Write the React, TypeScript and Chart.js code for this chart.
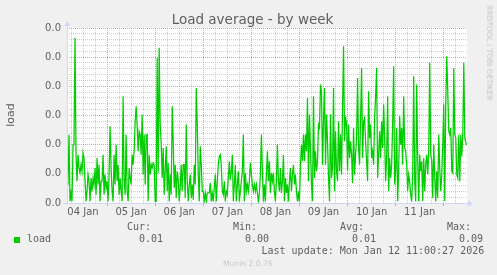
import React, { useEffect, useRef } from "react";
import { Chart, registerables } from "chart.js";

Chart.register(...registerables);

// Time axis: hours since 04 Jan 00:00, one sample every 30 minutes
const START_HOUR = 4;
const STEP_HOURS = 0.5;
const X_MIN = 4;
const X_MAX = 203.6;

const dayLabels = ["04 Jan", "05 Jan", "06 Jan", "07 Jan", "08 Jan", "09 Jan", "10 Jan", "11 Jan", "12 Jan"];
const yTickLabel = "0.0";
const Y_MAX = 0.096;
const Y_MINOR_STEP = 0.0032;
const Y_MINOR_COUNT = 30;

const loadValues = [
  // 04 Jan 04:00 ->
  0.0101, 0.0101, 0.0375, 0.0009, 0.0055, 0.0009, 0.032, 0.032, 0.0906, 0.0265,
  0.0119, 0.0265, 0.0192, 0.0165, 0.021, 0.0174, 0.0275, 0.0247, 0.0119, 0.0009,
  0.0064, 0.0156, 0.0119, 0.0009, 0.0137, 0.0064, 0.0137, 0.0101, 0.0192, 0.0046,
  0.0247, 0.0101, 0.021, 0.0009, 0.0119, 0.0119, 0.0265, 0.0046, 0.0156, 0.0082,
  0.0119, 0.0009, 0.0156, 0.0421, 0.0192, 0.0064, 0.0009, 0.0265, 0.0101, 0.032,
  0.0119, 0.021, 0.0046, 0.0137, 0.0064, 0.0009, 0.0586, 0.0119, 0.0046, 0.0375,
  0.0064, 0.0009, 0.0192, 0.0137, 0.0101, 0.0265, 0.021, 0.0284, 0.0448, 0.0531,
  0.043, 0.0284, 0.0393, 0.0375, 0.0265, 0.0485, 0.0156, 0.0375, 0.0101, 0.0375,
  // 05 Jan 16:00 ->
  0.0375, 0.0009, 0.0265, 0.0156, 0.021, 0.0192, 0.022, 0.021, 0.0009, 0.0009,
  0.0796, 0.0165, 0.0851, 0.043, 0.0329, 0.0137, 0.0302, 0.0046, 0.0174, 0.0311,
  0.0064, 0.022, 0.0009, 0.0156, 0.0046, 0.0531, 0.0339, 0.0082, 0.021, 0.0027,
  0.0174, 0.0128, 0.0009, 0.0082, 0.021, 0.0064, 0.021, 0.021, 0.0027, 0.043,
  0.0119, 0.0009, 0.0101, 0.0156, 0.0027, 0.0101, 0.0018, 0.021, 0.0101, 0.0631,
  0.043, 0.0156, 0.0009, 0.0311, 0.021, 0.0064, 0.0064, 0.0009, 0.0055, 0.0009,
  0.0055, 0.0055, 0.0055, 0.011, 0.0009, 0.0055, 0.0009, 0.0082, 0.0156, 0.0009,
  0.0119, 0.021, 0.0256, 0.0265, 0.0201, 0.0064, 0.0046, 0.0119, 0.0009, 0.0064,
  // 07 Jan 04:00 ->
  0.0046, 0.0137, 0.0229, 0.0128, 0.0174, 0.0265, 0.0009, 0.0101, 0.021, 0.0009,
  0.0101, 0.0174, 0.0009, 0.0064, 0.0119, 0.0174, 0.0375, 0.0009, 0.0165, 0.0064,
  0.0101, 0.0064, 0.0119, 0.022, 0.0156, 0.0101, 0.0064, 0.0101, 0.0064, 0.0101,
  0.0055, 0.0009, 0.0055, 0.0156, 0.0375, 0.0174, 0.0009, 0.0101, 0.0009, 0.0156,
  0.0284, 0.0119, 0.0229, 0.0055, 0.0165, 0.0119, 0.0165, 0.0064, 0.0009, 0.0119,
  0.032, 0.0119, 0.0064, 0.0192, 0.0055, 0.0119, 0.0265, 0.0009, 0.0137, 0.0055,
  0.0101, 0.0009, 0.0119, 0.0192, 0.0064, 0.0156, 0.021, 0.0101, 0.0156, 0.0064,
  0.0009, 0.0064, 0.0009, 0.021, 0.032, 0.0229, 0.0375, 0.0229, 0.0375, 0.0284,
  // 08 Jan 16:00 ->
  0.0576, 0.0119, 0.0485, 0.0284, 0.0101, 0.0009, 0.0586, 0.0137, 0.0284, 0.0174,
  0.0229, 0.043, 0.0412, 0.065, 0.0613, 0.021, 0.0448, 0.0631, 0.021, 0.0485,
  0.0339, 0.0137, 0.0009, 0.0485, 0.0137, 0.0192, 0.0631, 0.0064, 0.0393, 0.0174,
  0.0119, 0.0448, 0.0174, 0.0375, 0.0156, 0.0522, 0.086, 0.0339, 0.0476, 0.043,
  0.0174, 0.043, 0.0247, 0.0339, 0.0265, 0.011, 0.0412, 0.0156, 0.0265, 0.0357,
  0.0686, 0.0302, 0.021, 0.0458, 0.0741, 0.0247, 0.0448, 0.0467, 0.0339, 0.0229,
  0.0119, 0.0613, 0.0357, 0.043, 0.0247, 0.0284, 0.021, 0.0467, 0.0586, 0.0741,
  0.0137, 0.0265, 0.0393, 0.0247, 0.0448, 0.0302, 0.054, 0.0357, 0.0119, 0.0247,
  // 10 Jan 04:00 ->
  0.0586, 0.0064, 0.0247, 0.0137, 0.021, 0.043, 0.075, 0.0101, 0.0174, 0.0412,
  0.0009, 0.0174, 0.0476, 0.032, 0.0412, 0.021, 0.0586, 0.0302, 0.0284, 0.021,
  0.0064, 0.0156, 0.0119, 0.0046, 0.0009, 0.0156, 0.0695, 0.0119, 0.0009, 0.065,
  0.0247, 0.0009, 0.0265, 0.0174, 0.0229, 0.0009, 0.0247, 0.0064, 0.021, 0.0265,
  0.0156, 0.0284, 0.0769, 0.0265, 0.0229, 0.0027, 0.032, 0.0137, 0.0009, 0.0174,
  0.0027, 0.0375, 0.0192, 0.0064, 0.0156, 0.032, 0.054, 0.0009, 0.054, 0.0805,
  0.0613, 0.0393, 0.0375, 0.0412, 0.0174, 0.0165, 0.0741, 0.0375, 0.0357, 0.0156,
  0.0137, 0.0375, 0.0119, 0.0375, 0.0256, 0.0375, 0.0769, 0.0357, 0.0329, 0.032,
  0.032,
];

const seriesName = "load";
const statLabels = ["Cur:", "Min:", "Avg:", "Max:"];
const statValues = ["0.01", "0.00", "0.01", "0.09"];
const statLeft = [127, 233, 340, 447];
const lastUpdate = "Last update: Mon Jan 12 11:00:27 2026";

const MAJOR = "rgba(222,79,79,0.55)";
const MINOR = "rgba(165,165,165,0.55)";
const AXIS = "#cfd6f8";
const LINE = "#00cc00";
const FONT = "#5e5e5e";

export default function App() {
  const canvasRef = useRef<HTMLCanvasElement>(null);

  useEffect(() => {
    const canvas = canvasRef.current;
    if (!canvas) return;
    const data = loadValues.map((v, i) => ({ x: START_HOUR + i * STEP_HOURS, y: v }));

    const framePlugin = {
      id: "frame",
      beforeDraw(chart: any) {
        const { ctx, chartArea: a } = chart;
        ctx.save();
        ctx.fillStyle = "#f0f0f0";
        ctx.fillRect(0, 0, chart.width, chart.height);
        ctx.fillStyle = "#ffffff";
        ctx.fillRect(a.left, a.top, a.right - a.left, a.bottom - a.top);
        ctx.restore();
      },
      afterDraw(chart: any) {
        const { ctx, chartArea: a } = chart;
        ctx.save();
        ctx.strokeStyle = AXIS;
        ctx.fillStyle = AXIS;
        ctx.lineWidth = 1;
        ctx.beginPath();
        ctx.moveTo(a.left + 0.5, a.bottom + 1);
        ctx.lineTo(a.left + 0.5, a.top - 3);
        ctx.moveTo(a.left - 4, a.bottom + 0.5);
        ctx.lineTo(a.right + 2, a.bottom + 0.5);
        ctx.stroke();
        ctx.beginPath();
        ctx.moveTo(a.left - 2.5, a.top - 2);
        ctx.lineTo(a.left + 3.5, a.top - 2);
        ctx.lineTo(a.left + 0.5, a.top - 7);
        ctx.closePath();
        ctx.fill();
        ctx.beginPath();
        ctx.moveTo(a.right + 1, a.bottom - 2.5);
        ctx.lineTo(a.right + 1, a.bottom + 3.5);
        ctx.lineTo(a.right + 6, a.bottom + 0.5);
        ctx.closePath();
        ctx.fill();
        ctx.restore();
      },
    };

    const chart = new Chart(canvas, {
      type: "line",
      data: {
        datasets: [
          {
            label: seriesName,
            data,
            borderColor: LINE,
            borderWidth: 1.25,
            pointRadius: 0,
            tension: 0,
            fill: false,
          },
        ],
      },
      options: {
        animation: false,
        responsive: false,
        maintainAspectRatio: false,
        layout: { padding: { left: 0, top: 28, right: 30, bottom: 0 } },
        plugins: {
          legend: { display: false },
          tooltip: { enabled: false },
          title: { display: false },
        },
        scales: {
          x: {
            type: "linear",
            min: X_MIN,
            max: X_MAX,
            afterFit(scale: any) {
              scale.height = 72;
            },
            afterBuildTicks(scale: any) {
              const t: any[] = [];
              for (let h = Math.ceil(X_MIN / 6) * 6; h <= X_MAX; h += 6) t.push({ value: h });
              scale.ticks = t;
            },
            ticks: {
              autoSkip: false,
              maxRotation: 0,
              padding: 0,
              color: FONT,
              font: { family: "DejaVu Sans", size: 10 },
              callback: (v: any) => {
                const h = Number(v);
                return h % 24 === 12 ? dayLabels[Math.floor(h / 24)] : "";
              },
            },
            grid: {
              color: (c: any) => (c.tick && c.tick.value % 24 === 0 ? MAJOR : MINOR),
              lineWidth: 1,
              drawTicks: true,
              tickLength: 3,
              tickColor: (c: any) => (c.tick && c.tick.value % 24 === 0 ? MAJOR : "rgba(0,0,0,0)"),
            },
            border: { display: false, dash: [1, 1] },
          },
          y: {
            min: 0,
            max: Y_MAX,
            afterFit(scale: any) {
              scale.width = 67;
            },
            afterBuildTicks(scale: any) {
              scale.ticks = Array.from({ length: Y_MINOR_COUNT + 1 }, (_, i) => ({ value: i * Y_MINOR_STEP }));
            },
            ticks: {
              autoSkip: false,
              padding: 6,
              color: FONT,
              font: { family: "DejaVu Sans", size: 10 },
              callback: (_v: any, i: number) => (i % 5 === 0 ? yTickLabel : ""),
            },
            grid: {
              drawTicks: false,
              lineWidth: 1,
              color: (c: any) => (c.index % 5 === 0 ? MAJOR : MINOR),
            },
            border: { display: false, dash: [1, 1] },
          },
        },
      },
      plugins: [framePlugin],
    } as any);

    return () => chart.destroy();
  }, []);

  const mono: React.CSSProperties = {
    position: "absolute",
    fontFamily: "'DejaVu Sans Mono', monospace",
    fontSize: 10,
    lineHeight: "10px",
    color: FONT,
    whiteSpace: "pre",
  };

  return (
    <div
      style={{
        position: "fixed",
        left: 0,
        top: 0,
        width: 497,
        height: 275,
        background: "#f0f0f0",
        overflow: "hidden",
      }}
    >
      <canvas ref={canvasRef} width={497} height={275} style={{ position: "absolute", left: 0, top: 0 }} />
      <div
        style={{
          position: "absolute",
          left: 0,
          width: 505,
          top: 13,
          textAlign: "center",
          fontFamily: "'DejaVu Sans', sans-serif",
          fontSize: 13.5,
          lineHeight: "13px",
          color: FONT,
          whiteSpace: "pre",
        }}
      >
        Load average - by week
      </div>
      <div
        style={{
          position: "absolute",
          left: 10,
          top: 114.5,
          transform: "translate(-50%, -50%) rotate(-90deg)",
          fontFamily: "'DejaVu Sans', sans-serif",
          fontSize: 11,
          lineHeight: "11px",
          color: FONT,
          whiteSpace: "pre",
        }}
      >
        load
      </div>
      <div
        style={{
          position: "absolute",
          left: 488.5,
          top: 52.5,
          transform: "translate(-50%, -50%) rotate(90deg)",
          fontFamily: "'DejaVu Sans', sans-serif",
          fontSize: 7.4,
          lineHeight: "8px",
          color: "#c4c4c4",
          whiteSpace: "pre",
        }}
      >
        RRDTOOL / TOBI OETIKER
      </div>
      <div style={{ position: "absolute", left: 14, top: 237, width: 6, height: 6, background: LINE }} />
      <div style={{ ...mono, left: 27, top: 234 }}>{seriesName}</div>
      {statLabels.map((s, i) => (
        <React.Fragment key={s}>
          <div style={{ ...mono, left: statLeft[i], top: 222 }}>{s}</div>
          <div style={{ ...mono, left: statLeft[i] + 12, top: 234 }}>{statValues[i]}</div>
        </React.Fragment>
      ))}
      <div style={{ ...mono, left: 261.5, top: 246 }}>{lastUpdate}</div>
      <div
        style={{
          position: "absolute",
          left: 223,
          top: 260,
          fontFamily: "'DejaVu Sans', sans-serif",
          fontSize: 7.6,
          lineHeight: "8px",
          color: "#c8c8c8",
          whiteSpace: "pre",
        }}
      >
        Munin 2.0.76
      </div>
    </div>
  );
}
